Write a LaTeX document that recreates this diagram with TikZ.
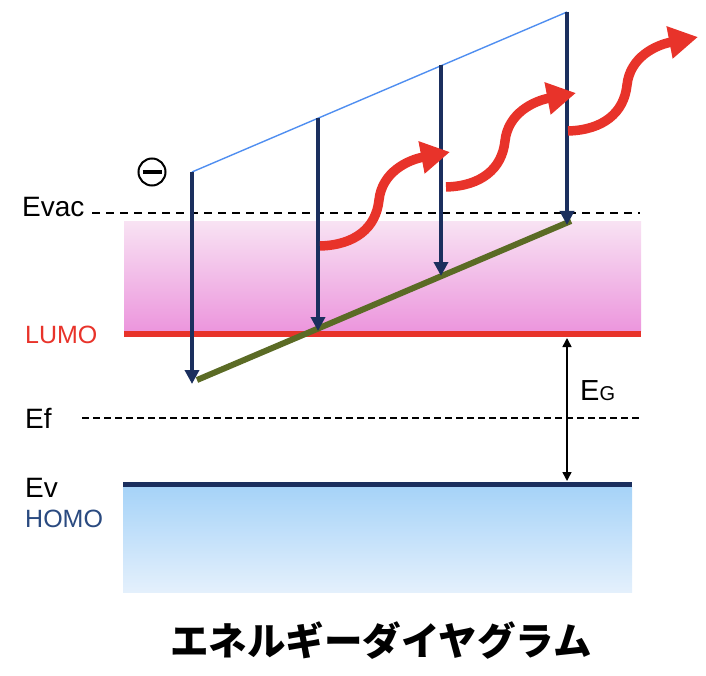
\documentclass[tikz,border=0pt]{standalone}
\usepackage{fontspec}
\setmainfont{Liberation Sans}
\newfontfamily\cjk{Noto Sans CJK JP}
\usetikzlibrary{arrows.meta}
\definecolor{navy}{HTML}{1B2F5E}
\definecolor{skyline}{HTML}{4F8EF0}
\definecolor{olive}{HTML}{5B6B25}
\definecolor{wred}{HTML}{E8332A}
\definecolor{pinktop}{HTML}{F8E2F3}
\definecolor{pinkbot}{HTML}{EC96DD}
\definecolor{bluetop}{HTML}{A6D3F8}
\definecolor{bluebot}{HTML}{E4F0FC}
\definecolor{homoblue}{HTML}{2A4A80}
\tikzset{
  lbl/.style={anchor=base west,inner sep=0pt,font=\fontsize{28}{28}\selectfont},
  lvl/.style={anchor=base west,inner sep=0pt,font=\fontsize{25}{25}\selectfont},
  navyarrow/.style={draw=navy,line width=4pt,-{Triangle[length=14pt,width=14pt]}},
  vacline/.style={draw=black,line width=2pt,dash pattern=on 8pt off 6pt},
  fermiline/.style={draw=black,line width=1.6pt,dash pattern=on 7pt off 4pt},
  redwave/.style={draw=wred,line width=9.5pt,-{Triangle[length=29pt,width=31pt]}},
  gaparrow/.style={draw=black,line width=1.5pt,{Triangle[length=9pt,width=9pt]}-{Triangle[length=9pt,width=9pt]}},
}
\begin{document}
\begin{tikzpicture}[x=1pt,y=-1pt]
\useasboundingbox (0,0) rectangle (706,676);
% bands
\shade[top color=pinktop,bottom color=pinkbot] (124,222) rectangle (641,331);
\shade[top color=bluetop,bottom color=bluebot] (123,487) rectangle (632,592);
\draw[wred,line width=6pt] (124,334) -- (641,334);
\draw[navy,line width=5pt] (123,484.5) -- (632,484.5);
% levels
\draw[vacline] (92,213) -- (640,213);
\draw[fermiline] (82,418) -- (640,418);
% labels
\node[lbl] (evac) at (22,217) {Evac};
\node[lvl,text=wred] (lumo) at (25,343) {LUMO};
\node[lbl] (ef) at (25,428) {Ef};
\node[lbl] (ev) at (25,497) {Ev};
\node[lvl,text=homoblue] (homo) at (25,527) {HOMO};
\node[anchor=base west,inner sep=0pt] (eg) at (580,400) {\fontsize{29}{29}\selectfont E\fontsize{20}{20}\selectfont G};
% gap arrow
\coordinate (gtop) at (567,338);
\coordinate (gbot) at (567,481);
\draw[gaparrow] (gtop) -- (gbot);
% electron
\node[draw=black,circle,line width=2pt,minimum size=27pt,inner sep=0pt] (el) at (152,172) {};
\draw[line width=4pt] ([xshift=-9.5pt]el.center) -- ([xshift=9.5pt]el.center);
% slanted lines
\coordinate (t1) at (192,172);
\coordinate (t2) at (318,118);
\coordinate (t3) at (441,65);
\coordinate (t4) at (567,12);
\coordinate (b1) at (192,384);
\coordinate (b2) at (318,331);
\coordinate (b3) at (441,276);
\coordinate (b4) at (567,225);
\coordinate (o1) at (197,380);
\coordinate (o2) at (571,221);
\draw[skyline,line width=1.4pt] (t1) -- (t4);
\draw[olive,line width=6pt] (o1) -- (o2);
\draw[navyarrow] (t1) -- (b1);
\draw[navyarrow] (t2) -- (b2);
\draw[navyarrow] (t3) -- (b3);
\draw[navyarrow] (t4) -- (b4);
% red wavy arrows
\foreach \sx/\sy in {320/246,446/187,568/131}{
  \begin{scope}[shift={(\sx,\sy)}]
    \draw[redwave] (0,0) .. controls (35,-1) and (56,-18) .. (59,-46) .. controls (62,-74) and (88,-86) .. (130,-94);
  \end{scope}
}
% title
\node[inner sep=0pt] (title) at (381,641) {\cjk\bfseries\fontsize{38.5}{38.5}\selectfont エネルギーダイヤグラム};
\end{tikzpicture}
\end{document}
